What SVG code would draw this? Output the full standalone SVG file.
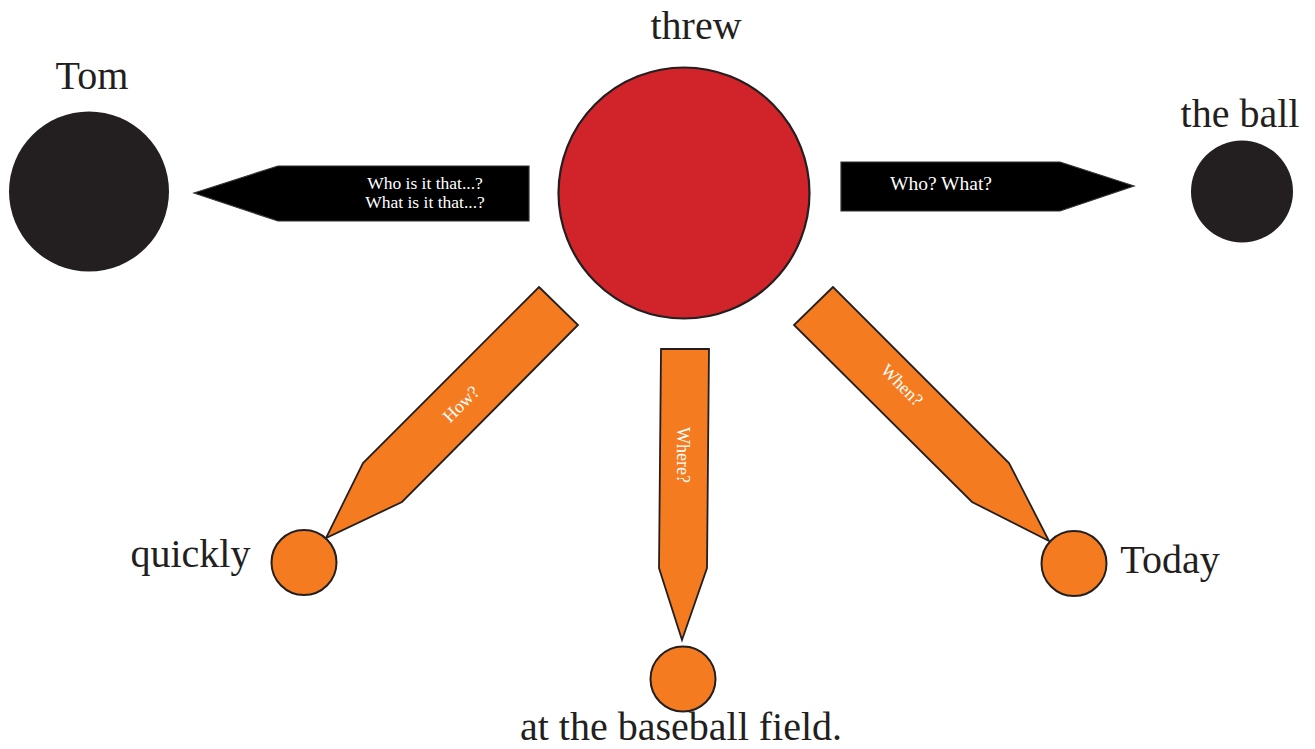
<svg xmlns="http://www.w3.org/2000/svg" width="1315" height="749" viewBox="0 0 1315 749">
<style>
.lbl{font-family:"Liberation Serif","Times New Roman",serif;font-size:40px;fill:#231f20;text-anchor:middle}
.al{font-family:"Liberation Serif","Times New Roman",serif;fill:#ffffff;text-anchor:middle}
.blk{fill:#231f20}
.org{fill:#f47b20;stroke:#231f20;stroke-width:2}
.barr{fill:#000000;stroke:#333333;stroke-width:1.2}
.oarr{fill:#f47b20;stroke:#231f20;stroke-width:1.8;stroke-linejoin:miter}
</style>
<rect width="1315" height="749" fill="#ffffff"/>
<g id="connectors">
  <g id="c-who-left">
    <polygon class="barr" points="194,193 278,166 529,166 529,221 278,221"/>
    <text class="al" font-size="17.5" x="425" y="189">Who is it that...?</text>
    <text class="al" font-size="17.5" x="425" y="208">What is it that...?</text>
  </g>
  <g id="c-who-right">
    <polygon class="barr" points="841,162 1060,162 1134,186 1060,211 841,211"/>
    <text class="al" font-size="19.5" x="941" y="190">Who? What?</text>
  </g>
  <g id="c-how">
    <polygon class="oarr" points="539,287 578,325 402,502 326,538 363,463"/>
    <text class="al" font-size="18" transform="translate(461,404) rotate(-45)" y="6">How?</text>
  </g>
  <g id="c-where">
    <polygon class="oarr" points="661,349 709,349 707,568 682,640 659,568"/>
    <text class="al" font-size="18" transform="translate(683,455) rotate(90)" y="6">Where?</text>
  </g>
  <g id="c-when">
    <polygon class="oarr" points="833,287 794,325 972,502 1049,541 1009,463"/>
    <text class="al" font-size="18" transform="translate(902,385) rotate(45)" y="6">When?</text>
  </g>
</g>
<g id="n-threw">
  <circle cx="684" cy="193" r="125.5" fill="#d1232a" stroke="#231f20" stroke-width="2.2"/>
  <text class="lbl" x="696" y="39">threw</text>
</g>
<g id="n-tom">
  <circle class="blk" cx="89" cy="191.5" r="80"/>
  <text class="lbl" x="92" y="89">Tom</text>
</g>
<g id="n-ball">
  <circle class="blk" cx="1242" cy="191.5" r="51"/>
  <text class="lbl" x="1240" y="127">the ball</text>
</g>
<g id="n-quickly">
  <circle class="org" cx="304" cy="562.5" r="32.5"/>
  <text class="lbl" x="190.5" y="567">quickly</text>
</g>
<g id="n-today">
  <circle class="org" cx="1074" cy="563.5" r="32.5"/>
  <text class="lbl" x="1170" y="573">Today</text>
</g>
<g id="n-field">
  <circle class="org" cx="683" cy="679" r="32.5"/>
  <text class="lbl" x="681" y="740">at the baseball field.</text>
</g>
</svg>
